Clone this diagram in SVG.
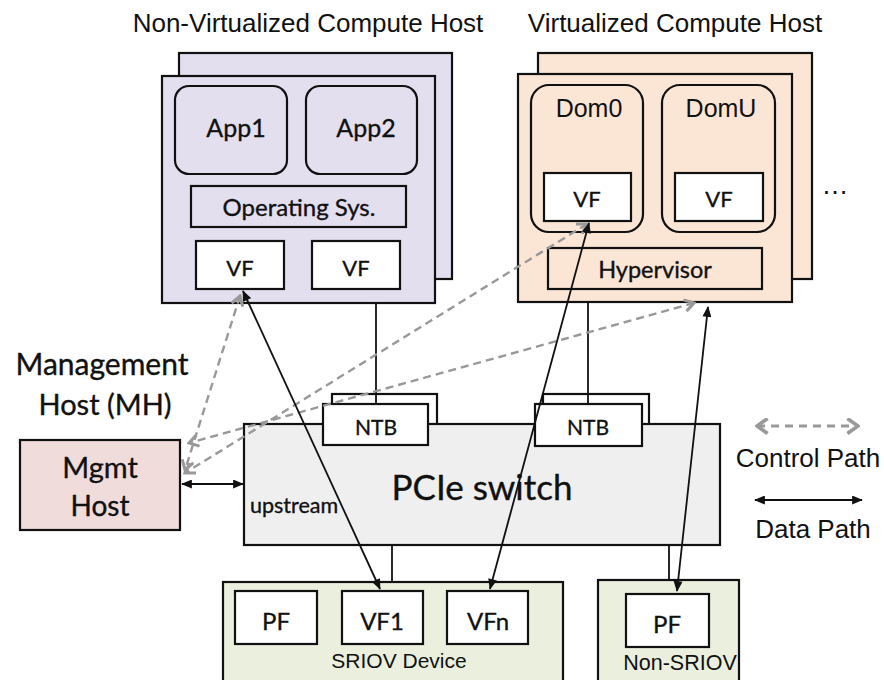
<svg xmlns="http://www.w3.org/2000/svg" width="884" height="680" viewBox="0 0 884 680">
<style>
.box{stroke:#111;stroke-width:2.2}
.w{fill:#fff}
.pur{fill:#e4dfee}
.pch{fill:#fbe5d5}
.grn{fill:#ebf0de}
.ar{font-family:"Liberation Sans",Arial,sans-serif;fill:#111}
.cb{font-family:Lato,"Liberation Sans",sans-serif;fill:#111;stroke:#111;stroke-width:0.35}
.data{stroke:#111;stroke-width:1.8;fill:none;marker-start:url(#ah);marker-end:url(#ah)}
.ctl{stroke:#999;stroke-width:2.4;stroke-dasharray:8 5;fill:none;marker-start:url(#ch);marker-end:url(#ch)}
.conn{stroke:#111;stroke-width:1.8;fill:none}
</style>
<defs>
<marker id="ah" viewBox="0 0 12 10" refX="11" refY="5" markerWidth="12" markerHeight="9" markerUnits="userSpaceOnUse" orient="auto-start-reverse"><path d="M0,0 L12,5 L0,10 z" fill="#111"/></marker>
<marker id="ch" viewBox="0 0 12 12" refX="10" refY="6" markerWidth="14" markerHeight="14" markerUnits="userSpaceOnUse" orient="auto-start-reverse"><path d="M2,1 L10,6 L2,11" fill="none" stroke="#999" stroke-width="2.6"/></marker>
<marker id="chL" viewBox="0 0 14 16" refX="12" refY="8" markerWidth="15" markerHeight="17" markerUnits="userSpaceOnUse" orient="auto-start-reverse"><path d="M2,1 L12,8 L2,15" fill="none" stroke="#999" stroke-width="3.5"/></marker>
</defs>
<rect width="884" height="680" fill="#fff"/>

<text class="ar" x="308" y="32" font-size="26" text-anchor="middle">Non-Virtualized Compute Host</text>
<text class="ar" x="675" y="32" font-size="26" text-anchor="middle">Virtualized Compute Host</text>

<g id="nonvirt-host">
<rect class="box pur" x="179" y="53" width="273" height="226"/>
<rect class="box pur" x="162" y="76" width="273" height="227"/>
<rect class="box pur" x="175" y="86" width="112" height="88" rx="14"/>
<text class="cb" x="236" y="137" font-size="25" text-anchor="middle">App1</text>
<rect class="box pur" x="306" y="86" width="111" height="88" rx="14"/>
<text class="cb" x="366" y="137" font-size="25" text-anchor="middle">App2</text>
<rect class="box pur" x="191" y="186" width="215" height="41"/>
<text class="cb" x="299" y="216" font-size="24" text-anchor="middle">Operating Sys.</text>
<rect class="box w" x="196" y="241" width="88" height="48"/>
<text class="cb" x="240" y="276" font-size="22" text-anchor="middle">VF</text>
<rect class="box w" x="312" y="241" width="88" height="48"/>
<text class="cb" x="356" y="276" font-size="22" text-anchor="middle">VF</text>
</g>

<g id="virt-host">
<rect class="box pch" x="538" y="53" width="274" height="226"/>
<rect class="box pch" x="518" y="74" width="274" height="228"/>
<rect class="box pch" x="531" y="85" width="112" height="147" rx="18"/>
<text class="ar" x="589" y="117" font-size="25" text-anchor="middle">Dom0</text>
<rect class="box w" x="544" y="173" width="87" height="48"/>
<text class="cb" x="587" y="207" font-size="22" text-anchor="middle">VF</text>
<rect class="box pch" x="662" y="85" width="113" height="147" rx="18"/>
<text class="ar" x="721" y="117" font-size="25" text-anchor="middle">DomU</text>
<rect class="box w" x="675" y="173" width="88" height="48"/>
<text class="cb" x="719" y="207" font-size="22" text-anchor="middle">VF</text>
<rect class="box pch" x="548" y="248" width="214" height="41"/>
<text class="cb" x="655" y="278" font-size="23.5" text-anchor="middle">Hypervisor</text>
</g>
<text class="ar" x="835" y="194" font-size="27" text-anchor="middle">…</text>

<g id="mgmt-label">
<text class="cb" x="102" y="375" font-size="30" text-anchor="middle">Management</text>
<text class="cb" x="105" y="415" font-size="29" text-anchor="middle">Host (MH)</text>
</g>
<g id="mgmt-host">
<rect class="box" fill="#f0dcda" x="20" y="440" width="160" height="90"/>
<text class="cb" x="100" y="478" font-size="29" text-anchor="middle">Mgmt</text>
<text class="cb" x="100" y="516" font-size="28" text-anchor="middle">Host</text>
</g>

<g id="pcie-switch">
<rect class="box w" x="332" y="394" width="105" height="40"/>
<rect class="box w" x="543" y="394" width="106" height="40"/>
<rect class="box" fill="#efefef" x="244" y="424" width="476" height="121"/>
<text class="cb" x="482" y="500" font-size="35" text-anchor="middle">PCIe switch</text>
<text class="cb" x="250" y="513" font-size="21.5">upstream</text>
</g>
<g id="ntb-left">
<rect class="box w" x="323" y="404" width="105" height="41"/>
<text class="cb" x="376" y="435" font-size="21" text-anchor="middle">NTB</text>
</g>
<g id="ntb-right">
<rect class="box w" x="535" y="404" width="107" height="42"/>
<text class="cb" x="588" y="435" font-size="21" text-anchor="middle">NTB</text>
</g>

<g id="sriov-device">
<rect class="box grn" x="223" y="582" width="340" height="110"/>
<rect class="box w" x="235" y="591" width="82" height="53"/>
<text class="cb" x="276" y="630" font-size="24" text-anchor="middle">PF</text>
<rect class="box w" x="342" y="591" width="81" height="53"/>
<text class="cb" x="382" y="630" font-size="24" text-anchor="middle">VF1</text>
<rect class="box w" x="447" y="591" width="81" height="53"/>
<text class="cb" x="488" y="630" font-size="24" text-anchor="middle">VFn</text>
<text class="ar" x="399" y="668" font-size="21" text-anchor="middle">SRIOV Device</text>
</g>
<g id="non-sriov">
<rect class="box grn" x="598" y="580" width="141" height="110"/>
<rect class="box w" x="626" y="594" width="83" height="53"/>
<text class="cb" x="667" y="633" font-size="24" text-anchor="middle">PF</text>
<text class="ar" x="680" y="670" font-size="21.5" text-anchor="middle">Non-SRIOV</text>
</g>

<g id="connectors">
<line class="conn" x1="376" y1="303" x2="376" y2="404"/>
<line class="conn" x1="588" y1="302" x2="588" y2="404"/>
<line class="conn" x1="392" y1="545" x2="392" y2="582"/>
<line class="conn" x1="669" y1="545" x2="669" y2="580"/>
<line class="ctl" x1="240" y1="296" x2="185" y2="470"/>
<line class="ctl" x1="587" y1="224" x2="185" y2="473"/>
<line class="ctl" x1="694" y1="303" x2="189" y2="443"/>
<line class="data" x1="243" y1="291" x2="380" y2="589"/>
<line class="data" x1="589" y1="223" x2="490" y2="589"/>
<line class="data" x1="708" y1="307" x2="677" y2="591"/>
<line class="data" x1="182" y1="484" x2="243" y2="484"/>
</g>

<g id="legend">
<line x1="757" y1="426" x2="858" y2="426" stroke="#999" stroke-width="3" stroke-dasharray="8 6" marker-start="url(#chL)" marker-end="url(#chL)"/>
<text class="ar" x="808" y="467" font-size="26" text-anchor="middle">Control Path</text>
<line class="data" x1="755" y1="500" x2="862" y2="500"/>
<text class="ar" x="813" y="538" font-size="26" text-anchor="middle">Data Path</text>
</g>
</svg>
